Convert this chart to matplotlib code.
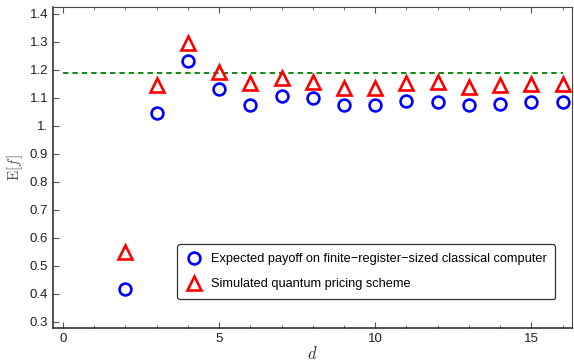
import matplotlib
matplotlib.use("Agg")
import matplotlib.pyplot as plt
from matplotlib.ticker import MultipleLocator

# register size d
d = [2, 3, 4, 5, 6, 7, 8, 9, 10, 11, 12, 13, 14, 15, 16]
# expected payoff, finite-register classical computer
classical = [0.418, 1.045, 1.232, 1.132, 1.074, 1.106, 1.099, 1.074, 1.074,
             1.089, 1.087, 1.074, 1.080, 1.087, 1.085]
# simulated quantum pricing scheme
quantum = [0.551, 1.145, 1.298, 1.193, 1.152, 1.170, 1.158, 1.137, 1.137,
           1.155, 1.157, 1.139, 1.148, 1.151, 1.149]
reference_level = 1.19

plt.rcParams.update({
    "font.family": "Liberation Sans",
    "font.size": 9.5,
    "mathtext.fontset": "cm",
})

fig = plt.figure(figsize=(5.74, 3.62), dpi=100)
ax = fig.add_axes([0.0923, 0.0931, 0.9042, 0.8884])

ax.plot([0, 16], [reference_level] * 2, color="#008000", linestyle=(0, (3, 2.2)),
        linewidth=1.3)
ax.plot(d, classical, linestyle="none", marker="o", markersize=8.5,
        markerfacecolor="none", markeredgecolor="blue", markeredgewidth=1.9,
        label="Expected payoff on finite\u2212register\u2212sized classical computer")
ax.plot(d, quantum, linestyle="none", marker="^", markersize=9.5,
        markerfacecolor="none", markeredgecolor="red", markeredgewidth=1.9,
        label="Simulated quantum pricing scheme")

ax.set_xlim(-0.32, 16.3)
ax.set_ylim(0.2775, 1.426)
ax.xaxis.set_major_locator(MultipleLocator(5))
ax.xaxis.set_minor_locator(MultipleLocator(1))
ax.set_yticks([0.3, 0.4, 0.5, 0.6, 0.7, 0.8, 0.9, 1.0, 1.1, 1.2, 1.3, 1.4])
ax.set_yticklabels(["0.3", "0.4", "0.5", "0.6", "0.7", "0.8", "0.9", "1.",
                    "1.1", "1.2", "1.3", "1.4"])
ax.tick_params(which="both", direction="in", top=True, right=False,
               color="#555555", labelcolor="#222222")
ax.tick_params(which="major", length=4, width=0.8)
ax.tick_params(which="minor", length=2, width=0.6)

for side in ["left", "bottom"]:
    ax.spines[side].set_color("#222222")
    ax.spines[side].set_linewidth(1.1)
for side in ["top", "right"]:
    ax.spines[side].set_color("#444444")
    ax.spines[side].set_linewidth(0.8)

ax.set_ylabel(r"$\mathrm{E}[f]$", fontsize=11, color="#555555", labelpad=3)
ax.set_xlabel(r"$d$", fontsize=12, color="#333333", labelpad=0)

leg = ax.legend(loc="lower right", bbox_to_anchor=(0.98, 0.07), frameon=True,
                fancybox=True, edgecolor="#333333", framealpha=1,
                borderpad=0.7, labelspacing=1.05, handlelength=1.2,
                handletextpad=0.7, fontsize=9.2)
leg.get_frame().set_linewidth(0.9)

fig.savefig("out.png", dpi=100)
